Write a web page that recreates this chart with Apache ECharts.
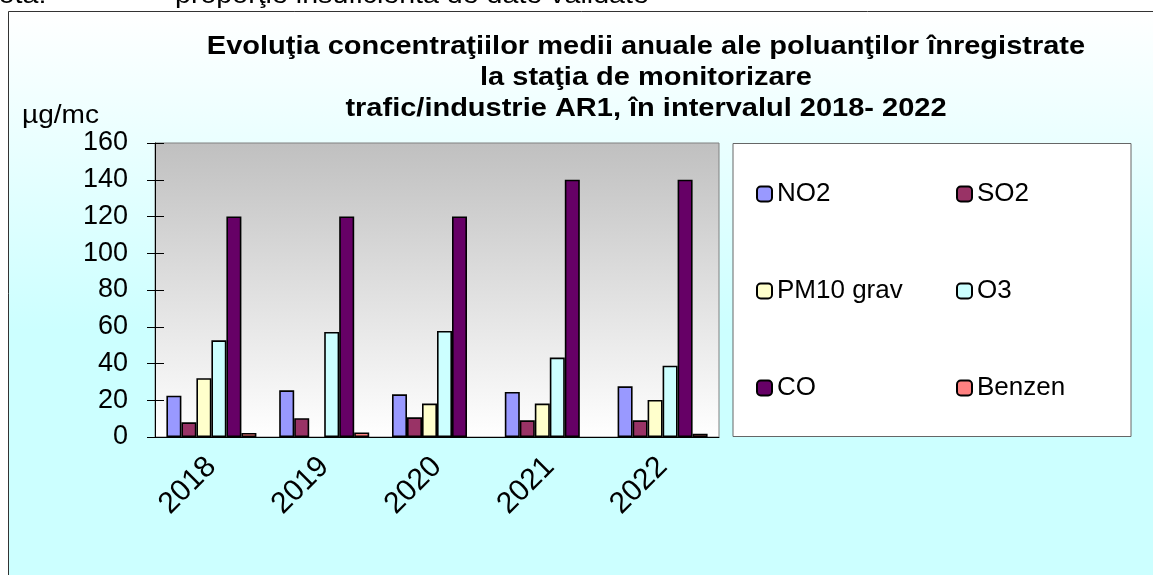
<!DOCTYPE html>
<html>
<head>
<meta charset="utf-8">
<style>
  html, body { margin: 0; padding: 0; background: #fff; }
  #chart { width: 1153px; height: 575px; }
</style>
<script src="https://cdn.jsdelivr.net/npm/echarts@6/dist/echarts.min.js"></script>
</head>
<body>
<div id="chart"></div>
<script>
var years = ['2018', '2019', '2020', '2021', '2022'];
var no2 = [22.5, 25.4, 23.2, 24.5, 27.6];
var so2 = [8, 10.2, 10.7, 9.1, 9.1];
var pm10 = [32, null, 18.2, 18.2, 20.2];
var o3 = [52.6, 57.2, 57.7, 43.2, 38.8];
var co = [120, 120, 120, 140, 140];
var benzen = [2.2, 2.5, null, null, 1.8];
var yTicks = [0, 20, 40, 60, 80, 100, 120, 140, 160];
var titleLines = [
    'Evoluţia concentraţiilor medii anuale ale poluanţilor înregistrate',
    'la staţia de monitorizare',
    'trafic/industrie AR1, în intervalul 2018- 2022'
];

var font = '"Liberation Sans", Arial, sans-serif';

var myChart = echarts.init(document.getElementById('chart'));

function bar(name, data, color) {
    return {
        name: name,
        type: 'bar',
        data: data,
        barWidth: 15,
        barGap: '0%',
        itemStyle: { color: color, borderColor: '#000', borderWidth: 1.6 },
        emphasis: { disabled: true }
    };
}

var graphics = [
    {   // outer frame with gradient
        type: 'rect', z: -10,
        shape: { x: 8.5, y: 11.5, width: 1160, height: 580 },
        style: {
            fill: new echarts.graphic.LinearGradient(0, 0, 0, 1, [
                { offset: 0, color: '#ffffff' },
                { offset: 0.55, color: '#ccffff' },
                { offset: 1, color: '#ccffff' }
            ]),
            stroke: '#333', lineWidth: 1
        }
    },
    {   // legend box
        type: 'rect', z: -5,
        shape: { x: 733, y: 143.5, width: 398, height: 293 },
        style: { fill: '#fff', stroke: '#666', lineWidth: 1 }
    },
    {
        type: 'text', x: -22, y: -17, scaleX: 1.1,
        style: { text: 'Notă:', font: '26px ' + font, fill: '#000' }
    },
    {
        type: 'text', x: 175, y: -17, scaleX: 1.1,
        style: { text: 'proporţie insuficientă de date validate', font: '26px ' + font, fill: '#000' }
    },
    {
        type: 'text', x: 22, y: 103, scaleX: 1.08,
        style: { text: 'µg/mc', font: '26px ' + font, fill: '#000' }
    }
];

// title lines, a bit wider than the font draws them
var titleY = [47, 78, 109];
titleLines.forEach(function (t, i) {
    graphics.push({
        type: 'text', x: 646, y: titleY[i], scaleX: 1.16,
        style: {
            text: t, font: 'bold 25px ' + font, fill: '#000',
            textAlign: 'center', textVerticalAlign: 'middle'
        }
    });
});

var option = {
    animation: false,
    textStyle: { fontFamily: font },
    graphic: graphics,
    legend: [
        {
            data: ['NO2', 'PM10 grav', 'CO'],
            orient: 'vertical',
            left: 751, top: 176,
            itemWidth: 15, itemHeight: 15, itemGap: 71,
            selectedMode: false,
            textStyle: { fontSize: 26, color: '#000', fontFamily: font }
        },
        {
            data: ['SO2', 'O3', 'Benzen'],
            orient: 'vertical',
            left: 951, top: 176,
            itemWidth: 15, itemHeight: 15, itemGap: 71,
            selectedMode: false,
            textStyle: { fontSize: 26, color: '#000', fontFamily: font }
        }
    ],
    grid: {
        left: 155, top: 143, width: 564, height: 294,
        show: true,
        borderColor: '#808080',
        borderWidth: 1,
        backgroundColor: new echarts.graphic.LinearGradient(0, 0, 0, 1, [
            { offset: 0, color: '#c0c0c0' },
            { offset: 1, color: '#ffffff' }
        ])
    },
    xAxis: [
        {
            type: 'category',
            data: years,
            axisLine: { lineStyle: { color: '#000', width: 1 } },
            axisTick: { length: 8, lineStyle: { color: '#000' } },
            axisLabel: { rotate: 45, fontSize: 30, color: '#000', margin: 25, fontFamily: font }
        },
        {   // inner half of the crossing ticks
            type: 'category',
            data: years,
            position: 'bottom',
            axisLine: { show: false },
            axisTick: { inside: true, length: 9, lineStyle: { color: '#000' } },
            axisLabel: { show: false }
        }
    ],
    yAxis: [
        {
            type: 'value',
            min: 0, max: 160, interval: 20,
            axisLine: { show: true, lineStyle: { color: '#000', width: 1 } },
            axisTick: { show: true, length: 8, lineStyle: { color: '#000' } },
            axisLabel: {
                fontSize: 27, color: '#000', margin: 27, fontFamily: font,
                formatter: function (v) { return yTicks.indexOf(v) >= 0 ? String(v) : ''; }
            },
            splitLine: { show: false }
        },
        {
            type: 'value',
            position: 'left',
            min: 0, max: 160, interval: 20,
            axisLine: { show: false },
            axisTick: { show: true, inside: true, length: 9, lineStyle: { color: '#000' } },
            axisLabel: { show: false },
            splitLine: { show: false }
        }
    ],
    series: [
        bar('NO2', no2, '#9999ff'),
        bar('SO2', so2, '#993366'),
        bar('PM10 grav', pm10, '#ffffcc'),
        bar('O3', o3, '#ccffff'),
        bar('CO', co, '#660066'),
        bar('Benzen', benzen, '#ff8080')
    ]
};

myChart.setOption(option);
</script>
</body>
</html>
